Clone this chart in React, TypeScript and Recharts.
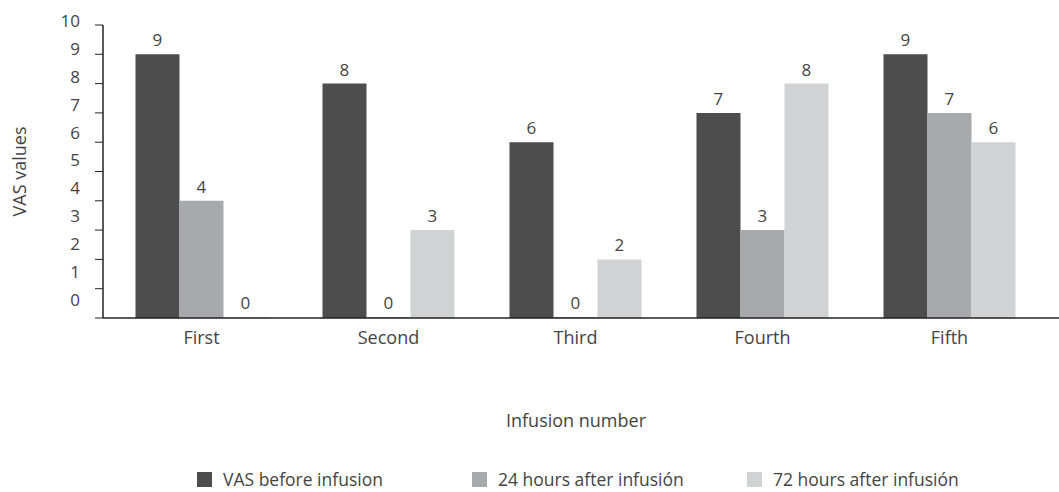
import { BarChart, Bar, XAxis, YAxis, Legend, LabelList } from "recharts";

const infusions = ["First", "Second", "Third", "Fourth", "Fifth"];
const vasBefore = [9, 8, 6, 7, 9];
const after24h = [4, 0, 0, 3, 7];
const after72h = [0, 3, 2, 8, 6];
const yTicks = [0, 1, 2, 3, 4, 5, 6, 7, 8, 9, 10];

const seriesNames = ["VAS before infusion", "24 hours after infusión", "72 hours after infusión"];
const seriesColors = ["#4d4d4d", "#a8a9ac", "#d1d2d4"];

const data = infusions.map((name, i) => ({
  name,
  before: vasBefore[i],
  h24: after24h[i],
  h72: after72h[i],
}));

const font = "'Open Sans', 'Noto Sans', sans-serif";
const textColor = "#444";

function YTick(props: any) {
  const { x, y, payload } = props;
  const v = payload.value as number;
  // the source's labels drift a little upward from their ticks
  const dy = -4 - (10 - v) * 1.4;
  return (
    <text x={x - 13} y={y + dy} dy="0.35em" textAnchor="end" fill={textColor} fontSize={17} fontFamily={font}>
      {v}
    </text>
  );
}

function LegendContent() {
  return (
    <div style={{ display: "flex", height: 18, alignItems: "center", paddingLeft: 197, fontFamily: font, fontSize: 17.5, color: textColor, whiteSpace: "nowrap" }}>
      {seriesNames.map((n, i) => (
        <div key={n} style={{ display: "flex", alignItems: "center", width: 275 }}>
          <span style={{ width: 15, height: 15, background: seriesColors[i], display: "inline-block", marginRight: 11 }} />
          <span>{n}</span>
        </div>
      ))}
    </div>
  );
}

// keep zero bars in the layout so their "0" labels are drawn
const zeroSize = (v: any) => (v === 0 ? 1 : 0);

export default function App() {
  return (
    <div style={{ position: "absolute", left: 0, top: 0, width: 1059, height: 492, background: "#fff" }}>
      <BarChart
        width={1059}
        height={492}
        data={data}
        margin={{ top: 25, right: 0, bottom: 4, left: 0 }}
        barCategoryGap="14.7%"
        barGap={0}
      >
        <XAxis
          dataKey="name"
          height={152}
          padding={{ left: 5, right: 16 }}
          axisLine={{ stroke: "#222", strokeWidth: 1.5 }}
          tickLine={false}
          tickSize={0}
          tickMargin={13}
          tick={{ fill: textColor, fontSize: 18, fontFamily: font }}
          label={{ value: "Infusion number", position: "insideBottom", offset: 43, dx: -5, fill: textColor, fontSize: 18, fontFamily: font }}
        />
        <YAxis
          width={103}
          domain={[0, 10]}
          ticks={yTicks}
          interval={0}
          axisLine={{ stroke: "#222", strokeWidth: 1.5 }}
          tickLine={{ stroke: "#222" }}
          tickSize={8}
          tick={<YTick />}
          label={{ value: "VAS  values", angle: -90, position: "insideLeft", offset: 20, fill: textColor, fontSize: 18, fontFamily: font, style: { textAnchor: "middle" } }}
        />
        <Legend verticalAlign="bottom" wrapperStyle={{ left: 0, width: 1059 }} content={<LegendContent />} />
        <Bar dataKey="before" name={seriesNames[0]} fill={seriesColors[0]} minPointSize={zeroSize} isAnimationActive={false}>
          <LabelList dataKey="before" position="top" offset={8} fill={textColor} fontSize={17} fontFamily={font} />
        </Bar>
        <Bar dataKey="h24" name={seriesNames[1]} fill={seriesColors[1]} minPointSize={zeroSize} isAnimationActive={false}>
          <LabelList dataKey="h24" position="top" offset={8} fill={textColor} fontSize={17} fontFamily={font} />
        </Bar>
        <Bar dataKey="h72" name={seriesNames[2]} fill={seriesColors[2]} minPointSize={zeroSize} isAnimationActive={false}>
          <LabelList dataKey="h72" position="top" offset={8} fill={textColor} fontSize={17} fontFamily={font} />
        </Bar>
      </BarChart>
    </div>
  );
}
